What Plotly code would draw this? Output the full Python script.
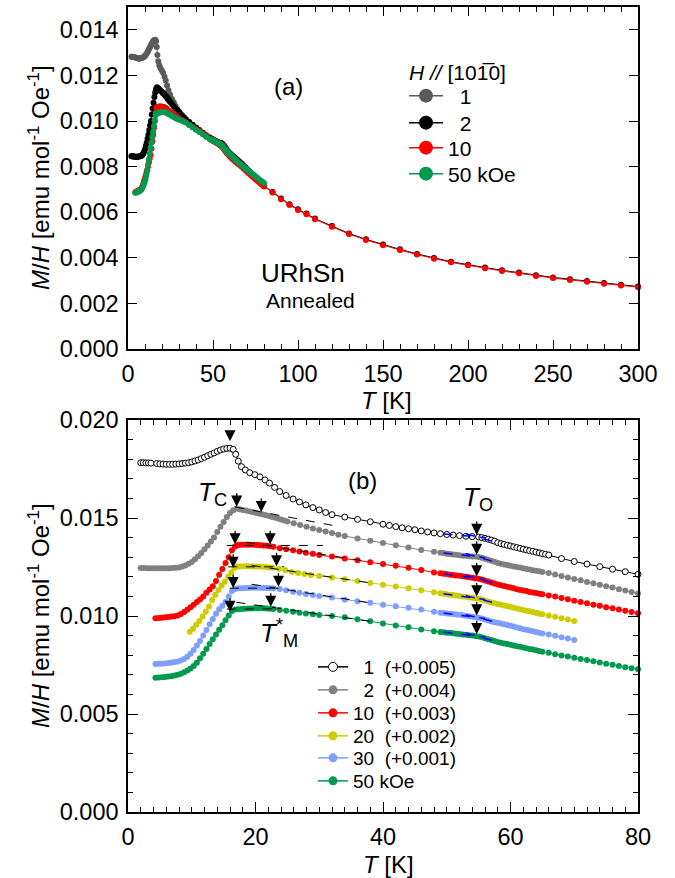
import numpy as np
import plotly.graph_objects as go

# ---------------- data (M/H in emu mol^-1 Oe^-1, T in K) ----------------
T1 = [2.0, 2.4, 2.8, 3.2, 3.6, 4.5, 5.0, 5.5, 6.0, 6.5,
      7.0, 7.5, 8.0, 8.5, 9.0, 9.5, 10.0, 10.5, 11.0, 11.5,
      12.0, 12.5, 13.0, 13.5, 14.0, 14.5, 15.0, 15.5, 16.0, 16.5,
      16.9, 17.3, 17.8, 18.4, 19.1, 19.9, 20.7, 21.5, 22.2, 23.0,
      23.8, 24.8, 25.9, 26.9, 27.9, 29.0, 30.0, 31.0, 32.0, 34.0,
      36.0, 38.0, 40.0, 41.0, 42.0, 43.0, 44.0, 45.0, 46.0, 47.0,
      48.0, 49.0, 50.0, 51.0, 52.0, 53.0, 54.0, 55.0, 55.5, 56.0,
      56.5, 57.0, 57.5, 58.0, 58.5, 59.0, 59.5, 60.0, 60.5, 61.0,
      61.5, 62.0, 62.5, 63.0, 63.5, 64.0, 64.5, 65.0, 65.5, 66.0,
      68.0, 70.0, 72.0, 74.0, 76.0, 78.0, 80.0]
M1 = [.01282, .01282, .01281, .01281, .01280, .01278, .01276, .01275, .01274, .01274,
      .01274, .01275, .01276, .01278, .01280, .01282, .01286, .01291, .01296, .01303,
      .01310, .01318, .01325, .01332, .01340, .01347, .01352, .01355, .01356, .01350,
      .01325, .01290, .01262, .01245, .01231, .01221, .01210, .01194, .01178, .01156,
      .01135, .01115, .01097, .01082, .01067, .01053, .01041, .01028, .01017, .01005,
      .00993, .00981, .00968, .00962, .00956, .00950, .00945, .00940, .00934, .00929,
      .00924, .00920, .00916, .00913, .00910, .00907, .00905, .00903, .00900, .00896,
      .00892, .00887, .00882, .00874, .00869, .00865, .00861, .00857, .00853, .00849,
      .00845, .00841, .00837, .00833, .00830, .00826, .00822, .00818, .00815, .00811,
      .00793, .00778, .00765, .00752, .00739, .00726, .00713]

T2 = [2.0, 2.5, 3.0, 3.5, 4.0, 4.5, 5.0, 5.5, 6.0, 6.5,
      7.0, 7.5, 8.0, 8.5, 9.0, 9.5, 10.0, 10.5, 11.0, 11.5,
      12.0, 12.5, 13.0, 13.5, 14.0, 14.5, 15.0, 15.5, 16.0, 16.5,
      17.0, 17.5, 18.0, 18.5, 19.0, 19.5, 20.0, 20.5, 21.0, 21.5,
      22.0, 22.5, 23.0, 23.5, 24.0, 24.5, 25.0, 26.0, 27.0, 28.0,
      29.0, 30.0, 31.0, 32.0, 33.0, 34.0, 36.0, 38.0, 40.0, 42.0,
      44.0, 46.0, 48.0, 49.0, 49.5, 50.0, 50.5, 51.0, 51.5, 52.0,
      52.5, 53.0, 53.5, 54.0, 54.5, 55.0, 55.5, 56.0, 56.5, 57.0,
      57.5, 58.0, 58.5, 59.0, 59.5, 60.0, 60.5, 61.0, 61.5, 62.0,
      62.5, 63.0, 63.5, 64.0, 64.5, 65.0, 66.0, 67.0, 68.0, 69.0,
      70.0, 71.0, 72.0, 73.0, 74.0, 75.0, 76.0, 77.0, 78.0, 79.0,
      80.0]
M2 = [.00845, .00845, .00844, .00844, .00843, .00843, .00843, .00843, .00843, .00844,
      .00845, .00846, .00848, .00852, .00858, .00866, .00876, .00890, .00905, .00922,
      .00940, .00960, .00980, .01000, .01028, .01055, .01080, .01105, .01125, .01140,
      .01148, .01145, .01141, .01138, .01134, .01131, .01127, .01123, .01119, .01115,
      .01111, .01107, .01102, .01097, .01092, .01087, .01082, .01073, .01064, .01055,
      .01047, .01039, .01031, .01023, .01015, .01008, .00996, .00984, .00972, .00961,
      .00949, .00937, .00928, .00923, .00921, .00918, .00916, .00914, .00912, .00910,
      .00908, .00907, .00905, .00904, .00903, .00901, .00897, .00892, .00887, .00882,
      .00877, .00871, .00867, .00863, .00860, .00856, .00853, .00850, .00847, .00844,
      .00840, .00837, .00834, .00831, .00828, .00825, .00819, .00812, .00804, .00797,
      .00789, .00782, .00774, .00767, .00760, .00752, .00745, .00737, .00730, .00722,
      .00715]

T10 = [4.3, 4.8, 5.3, 5.8, 6.3, 6.8, 7.3, 7.8, 8.3, 8.8,
       9.3, 9.8, 10.3, 10.8, 11.3, 11.8, 12.3, 12.8, 13.3, 13.8,
       14.3, 14.8, 15.3, 15.8, 16.3, 16.8, 17.3, 17.8, 18.3, 18.8,
       19.3, 19.8, 20.3, 20.8, 21.3, 21.8, 22.3, 22.8, 23.8, 24.8,
       25.9, 26.9, 27.9, 29.0, 30.0, 32.0, 34.0, 36.0, 38.0, 40.0,
       42.0, 44.0, 46.0, 48.0, 49.0, 49.5, 50.0, 50.5, 51.0, 51.5,
       52.0, 52.5, 53.0, 53.5, 54.0, 54.5, 55.0, 55.5, 56.0, 56.5,
       57.0, 57.5, 58.0, 58.5, 59.0, 59.5, 60.0, 60.5, 61.0, 61.5,
       62.0, 62.5, 63.0, 63.5, 64.0, 64.5, 65.0, 66.0, 67.0, 68.0,
       69.0, 70.0, 71.0, 72.0, 73.0, 74.0, 75.0, 76.0, 77.0, 78.0,
       79.0, 80.0]
M10 = [.00688, .00690, .00691, .00693, .00695, .00697, .00699, .00702, .00710, .00720,
       .00732, .00745, .00758, .00772, .00784, .00800, .00818, .00835, .00852, .00878,
       .00910, .00940, .00970, .01000, .01035, .01055, .01062, .01063, .01063, .01064,
       .01064, .01063, .01062, .01061, .01060, .01058, .01056, .01053, .01046, .01041,
       .01036, .01029, .01023, .01017, .01011, .01003, .00994, .00984, .00974, .00965,
       .00956, .00946, .00935, .00922, .00918, .00916, .00914, .00911, .00909, .00907,
       .00905, .00903, .00900, .00898, .00895, .00893, .00890, .00886, .00881, .00876,
       .00871, .00866, .00861, .00857, .00853, .00849, .00845, .00841, .00837, .00833,
       .00830, .00827, .00823, .00820, .00817, .00814, .00811, .00805, .00799, .00792,
       .00785, .00778, .00771, .00765, .00758, .00752, .00745, .00739, .00733, .00727,
       .00720, .00714]

T20 = [9.7, 10.2, 10.7, 11.2, 11.7, 12.2, 12.7, 13.2, 13.7, 14.2,
       14.7, 15.2, 15.7, 16.2, 16.7, 17.2, 17.7, 18.2, 18.7, 19.2,
       19.7, 20.2, 20.7, 21.2, 21.7, 22.2, 22.7, 23.7, 24.7, 25.7,
       26.7, 27.7, 28.7, 30.0, 32.0, 34.0, 36.0, 38.0, 40.0, 42.0,
       44.0, 46.0, 48.0, 49.0, 49.5, 50.0, 50.5, 51.0, 51.5, 52.0,
       52.5, 53.0, 53.5, 54.0, 54.5, 55.0, 55.5, 56.0, 56.5, 57.0,
       57.5, 58.0, 58.5, 59.0, 59.5, 60.0, 60.5, 61.0, 61.5, 62.0,
       62.5, 63.0, 63.5, 64.0, 64.5, 65.0, 66.0, 67.0, 68.0, 69.0,
       70.0]
M20 = [.00720, .00735, .00755, .00775, .00798, .00822, .00848, .00882, .00908, .00933,
       .00955, .00975, .01000, .01022, .01045, .01052, .01053, .01054, .01054, .01054,
       .01053, .01053, .01052, .01051, .01050, .01048, .01046, .01041, .01033, .01025,
       .01019, .01014, .01009, .01004, .00997, .00987, .00978, .00969, .00960, .00951,
       .00942, .00932, .00921, .00916, .00914, .00911, .00909, .00907, .00905, .00902,
       .00900, .00898, .00895, .00893, .00891, .00888, .00884, .00879, .00874, .00869,
       .00865, .00861, .00858, .00854, .00850, .00846, .00842, .00838, .00834, .00831,
       .00827, .00824, .00820, .00816, .00812, .00809, .00802, .00796, .00789, .00782,
       .00775]

T30 = [4.3, 4.8, 5.3, 5.8, 6.3, 6.8, 7.3, 7.8, 8.3, 8.8,
       9.3, 9.8, 10.3, 10.8, 11.3, 11.8, 12.3, 12.8, 13.3, 13.8,
       14.3, 14.8, 15.3, 15.8, 16.3, 16.8, 17.3, 17.8, 18.3, 18.8,
       19.3, 19.8, 20.3, 20.8, 21.3, 21.8, 22.3, 22.8, 23.8, 24.8,
       25.9, 26.9, 27.9, 29.0, 30.0, 32.0, 34.0, 36.0, 38.0, 40.0,
       42.0, 44.0, 46.0, 48.0, 49.0, 49.5, 50.0, 50.5, 51.0, 51.5,
       52.0, 52.5, 53.0, 53.5, 54.0, 54.5, 55.0, 55.5, 56.0, 56.5,
       57.0, 57.5, 58.0, 58.5, 59.0, 59.5, 60.0, 60.5, 61.0, 61.5,
       62.0, 62.5, 63.0, 63.5, 64.0, 64.5, 65.0, 66.0, 67.0, 68.0,
       69.0, 70.0]
M30 = [.00655, .00656, .00657, .00658, .00660, .00662, .00665, .00668, .00673, .00680,
       .00692, .00707, .00727, .00750, .00772, .00800, .00829, .00858, .00885, .00912,
       .00935, .00952, .00972, .01000, .01028, .01038, .01041, .01042, .01043, .01043,
       .01044, .01044, .01044, .01044, .01043, .01043, .01042, .01041, .01038, .01031,
       .01024, .01018, .01012, .01007, .01002, .00994, .00983, .00975, .00967, .00958,
       .00950, .00942, .00933, .00922, .00917, .00915, .00913, .00911, .00910, .00908,
       .00906, .00904, .00901, .00899, .00896, .00894, .00891, .00887, .00882, .00877,
       .00872, .00868, .00865, .00862, .00858, .00854, .00850, .00846, .00841, .00837,
       .00833, .00830, .00826, .00822, .00818, .00815, .00811, .00805, .00799, .00792,
       .00785, .00778]

T50 = [4.3, 4.8, 5.3, 5.8, 6.3, 6.8, 7.3, 7.8, 8.3, 8.8,
       9.3, 9.8, 10.3, 10.8, 11.3, 11.8, 12.3, 12.8, 13.3, 13.8,
       14.3, 14.8, 15.3, 15.8, 16.3, 16.8, 17.3, 17.8, 18.3, 18.8,
       19.3, 19.8, 20.3, 20.8, 21.3, 21.8, 22.3, 22.8, 23.8, 24.8,
       25.9, 26.9, 27.9, 29.0, 30.0, 32.0, 34.0, 36.0, 38.0, 40.0,
       42.0, 44.0, 46.0, 48.0, 49.0, 49.5, 50.0, 50.5, 51.0, 51.5,
       52.0, 52.5, 53.0, 53.5, 54.0, 54.5, 55.0, 55.5, 56.0, 56.5,
       57.0, 57.5, 58.0, 58.5, 59.0, 59.5, 60.0, 60.5, 61.0, 61.5,
       62.0, 62.5, 63.0, 63.5, 64.0, 64.5, 65.0, 66.0, 67.0, 68.0,
       69.0, 70.0, 71.0, 72.0, 73.0, 74.0, 75.0, 76.0, 77.0, 78.0,
       79.0, 80.0]
M50 = [.00685, .00686, .00688, .00689, .00691, .00693, .00696, .00700, .00705, .00713,
       .00722, .00732, .00745, .00762, .00784, .00808, .00832, .00857, .00882, .00905,
       .00930, .00953, .00978, .01003, .01025, .01033, .01035, .01036, .01037, .01038,
       .01038, .01039, .01039, .01039, .01039, .01038, .01037, .01036, .01031, .01027,
       .01022, .01017, .01013, .01009, .01005, .01000, .00993, .00983, .00973, .00962,
       .00952, .00942, .00931, .00922, .00919, .00917, .00915, .00914, .00912, .00910,
       .00908, .00906, .00904, .00902, .00900, .00898, .00896, .00892, .00887, .00882,
       .00877, .00873, .00867, .00864, .00860, .00857, .00853, .00850, .00846, .00843,
       .00839, .00836, .00832, .00829, .00825, .00821, .00818, .00812, .00805, .00799,
       .00793, .00787, .00781, .00775, .00769, .00763, .00757, .00751, .00745, .00739,
       .00734, .00728]

# high-temperature part (panel a only)
T_HIGH = [85, 90, 95, 100, 105, 110, 120, 130, 140, 150, 160, 170, 180,
          190, 200, 210, 220, 230, 240, 250, 260, 270, 280, 290, 300]
M10_HIGH = [.00686, .00657, .00632, .00610, .00591, .00569, .00536, .00504, .00478,
            .00455, .00434, .00414, .00396, .00380, .00367, .00354, .00342, .00332,
            .00320, .00311, .00303, .00295, .00286, .00279, .00271]
M2_HIGH = [.00689, .00660, .00635, .00613, .00594, .00572, .00539, .00507, .00481,
           .00458, .00437, .00417, .00399, .00383, .00370, .00357, .00345, .00335,
           .00323, .00314, .00306, .00298, .00289, .00282, .00274]

# vertical offsets used in panel (b)
OFFSETS = {"1": 0.005, "2": 0.004, "10": 0.003, "20": 0.002, "30": 0.001, "50": 0.0}

# characteristic temperatures marked by arrows in panel (b)
TC_ARROW = {"1": 16.0, "2": 17.05, "10": 16.8, "20": 16.5, "30": 16.5, "50": 16.0}
TM_ARROW = {"2": 20.9, "10": 22.3, "20": 23.3, "30": 23.6, "50": 22.4}
T_O = 54.7

# dashed guide lines in panel (b) (values include the offsets): T1, M1, T2, M2
GUIDES = [(16.8, 0.01556, 33.3, 0.01455),
          (15.5, 0.01360, 30.6, 0.01360),
          (18.5, 0.01376, 38.0, 0.01276),
          (15.7, 0.01251, 24.5, 0.01251),
          (19.4, 0.01258, 38.0, 0.01169),
          (16.0, 0.01142, 24.0, 0.01142),
          (19.4, 0.01162, 38.0, 0.01067),
          (15.5, 0.01035, 23.5, 0.01037),
          (17.0, 0.01070, 38.0, 0.00973)]

# ---------------- figure ----------------
W, H = 675, 878
FONT = "Liberation Sans, Arial, Helvetica, sans-serif"


def fx(p):
    return p / W


def fy(p):
    return 1 - p / H


SERIES = {"1": (T1, M1), "2": (T2, M2), "10": (T10, M10),
          "20": (T20, M20), "30": (T30, M30), "50": (T50, M50)}

COL_A = {"1": "#5a5a5a", "2": "#000000", "10": "#ff0000", "50": "#009a4e"}
COL_B = {"1": "#000000", "2": "#808080", "10": "#ff0000", "20": "#cccc00",
         "30": "#7f9fff", "50": "#009a4e"}

fig = go.Figure()

# ---- panel (a)
for key in ["1", "2", "10", "50"]:
    t, m = SERIES[key]
    if key == "2":
        t, m = t + T_HIGH, m + M2_HIGH
    if key == "10":
        t, m = t + T_HIGH, m + M10_HIGH
    c = COL_A[key]
    fig.add_trace(go.Scatter(x=t, y=m, mode="lines+markers", xaxis="x", yaxis="y",
                             line=dict(color=c, width=1),
                             marker=dict(color=c, size=6, line=dict(width=0)),
                             showlegend=False, cliponaxis=False))

# one legend box per entry, so that each row sits exactly where it should
LEG_A = {"1": "\u20071", "2": "\u20072", "10": "10", "50": "50 kOe"}
ROW_A = {"1": 96, "2": 123, "10": 148, "50": 174}
legends = {}
n = 1
for key in ["1", "2", "10", "50"]:
    c = COL_A[key]
    lname = "legend" if n == 1 else "legend%d" % n
    fig.add_trace(go.Scatter(x=[None], y=[None], mode="lines+markers", xaxis="x", yaxis="y",
                             line=dict(color=c, width=1.5),
                             marker=dict(color=c, size=14, line=dict(width=0)),
                             name=LEG_A[key], legend=lname))
    legends[lname] = dict(x=fx(404), y=fy(ROW_A[key]), xanchor="left", yanchor="middle",
                          bgcolor="rgba(0,0,0,0)", itemwidth=34,
                          font=dict(family=FONT, size=21, color="black"))
    n += 1


# ---- panel (b)
def shifted(key):
    t, m = SERIES[key]
    return t, [v + OFFSETS[key] for v in m]


for key in ["1", "2", "10", "20", "30", "50"]:
    t, m = shifted(key)
    c = COL_B[key]
    if key == "1":
        mk = dict(color="white", size=6, line=dict(color="black", width=1))
    else:
        mk = dict(color=c, size=6, line=dict(width=0))
    fig.add_trace(go.Scatter(x=t, y=m, mode="lines+markers", xaxis="x2", yaxis="y2",
                             line=dict(color=c, width=1), marker=mk,
                             showlegend=False, cliponaxis=False))

# black dashed guides
gx, gy = [], []
for (a, b, c_, d) in GUIDES:
    gx += [a, c_, None]
    gy += [b, d, None]
fig.add_trace(go.Scatter(x=gx, y=gy, mode="lines", xaxis="x2", yaxis="y2",
                         line=dict(color="black", width=1, dash="dash"),
                         showlegend=False, hoverinfo="skip"))

# blue dashed tangents around T_O
bx, by = [], []
for key in ["1", "2", "10", "20", "30", "50"]:
    t, m = shifted(key)
    ma = float(np.interp(49.5, t, m))
    mo = float(np.interp(T_O, t, m))
    mb = float(np.interp(58.5, t, m))
    s1 = (mo - ma) / (T_O - 49.5)
    s2 = (mb - mo) / (58.5 - T_O)
    bx += [49.5, 56.0, None, 53.0, 58.5, None]
    by += [ma, mo + s1 * (56.0 - T_O), None, mo + s2 * (53.0 - T_O), mb, None]
fig.add_trace(go.Scatter(x=bx, y=by, mode="lines", xaxis="x2", yaxis="y2",
                         line=dict(color="#0000ff", width=1.5, dash="dash"),
                         showlegend=False, hoverinfo="skip"))

LEG_B = {"1": "\u20071\u00a0\u00a0(+0.005)", "2": "\u20072\u00a0\u00a0(+0.004)",
         "10": "10\u00a0\u00a0(+0.003)", "20": "20\u00a0\u00a0(+0.002)",
         "30": "30\u00a0\u00a0(+0.001)", "50": "50 kOe"}
ROW_B = {"1": 667, "2": 690, "10": 713, "20": 736, "30": 758, "50": 781}
for key in ["1", "2", "10", "20", "30", "50"]:
    c = COL_B[key]
    if key == "1":
        mk = dict(color="white", size=9, line=dict(color="black", width=1))
    else:
        mk = dict(color=c, size=9, line=dict(width=0))
    lname = "legend%d" % n
    fig.add_trace(go.Scatter(x=[None], y=[None], mode="lines+markers", xaxis="x2", yaxis="y2",
                             line=dict(color=c, width=1.5), marker=mk,
                             name=LEG_B[key], legend=lname))
    legends[lname] = dict(x=fx(313), y=fy(ROW_B[key]), xanchor="left", yanchor="middle",
                          bgcolor="rgba(0,0,0,0)", itemwidth=30,
                          font=dict(family=FONT, size=19, color="black"))
    n += 1

# ---------------- axes ----------------
XD = [fx(128), fx(638)]
common = dict(showline=True, linecolor="black", linewidth=1.5, mirror="ticks",
              ticks="inside", tickcolor="black", tickwidth=1.2, showgrid=False,
              zeroline=False, automargin=False,
              tickfont=dict(family=FONT, size=23.5, color="black"))

fig.update_layout(
    width=W, height=H, margin=dict(l=0, r=0, t=0, b=0),
    paper_bgcolor="white", plot_bgcolor="white",
    font=dict(family=FONT, color="black"),
    xaxis=dict(domain=XD, range=[0, 300], tick0=0, dtick=50, ticklen=9, anchor="y",
               ticklabelstandoff=3,
               minor=dict(ticks="inside", dtick=10, ticklen=5, tickcolor="black", tickwidth=1.2),
               **common),
    yaxis=dict(domain=[fy(349), fy(7)], range=[0, 0.015], tick0=0, dtick=0.002,
               tickformat=".3f", ticklen=9, anchor="x", ticklabelstandoff=3, **common),
    xaxis2=dict(domain=XD, range=[0, 80], tick0=0, dtick=20, ticklen=10, anchor="y2",
                ticklabelstandoff=3,
                minor=dict(ticks="inside", dtick=2, ticklen=5, tickcolor="black", tickwidth=1.2),
                **common),
    yaxis2=dict(domain=[fy(812), fy(420)], range=[0, 0.020], tick0=0, dtick=0.005,
                tickformat=".3f", ticklen=10, anchor="x2", ticklabelstandoff=3,
                minor=dict(ticks="inside", dtick=0.001, ticklen=5, tickcolor="black", tickwidth=1.2),
                **common),
    **legends,
)


def txt(x, y, text, size, **kw):
    d = dict(x=fx(x), y=fy(y), xref="paper", yref="paper", showarrow=False,
             xanchor="center", yanchor="middle", text=text,
             font=dict(family=FONT, size=size, color="black"))
    d.update(kw)
    return d


ann = []
ytitle = "<i>M</i>/<i>H</i> [emu mol<sup>-1</sup> Oe<sup>-1</sup>]"
ann.append(txt(386, 401, "<i>T</i> [K]", 24))
ann.append(txt(388, 864, "<i>T</i> [K]", 24))
ann.append(txt(39, 178, ytitle, 24, textangle=-90))
ann.append(txt(39, 616, ytitle, 24, textangle=-90))
ann.append(txt(407, 72, "<i>H</i> <i>//</i> [101\u03050]", 21, xanchor="left"))
ann.append(txt(288, 87, "(a)", 24))
ann.append(txt(362, 480, "(b)", 24))
ann.append(txt(303, 273, "URhSn", 26))
ann.append(txt(310, 300, "Annealed", 21))
ann.append(txt(212, 493, "<i>T</i><sub>C</sub>", 26))
ann.append(txt(478, 498, "<i>T</i><sub>O</sub>", 26))
ann.append(txt(279, 633, "<i>T</i><sup>*</sup><sub>M</sub>", 26))


def arrow(key, T, standoff=2):
    t, m = shifted(key)
    return dict(x=T, y=float(np.interp(T, t, m)), xref="x2", yref="y2", text="",
                showarrow=True, arrowhead=2, arrowsize=1.7, arrowwidth=1.3,
                arrowcolor="black", ax=0, ay=-17, standoff=standoff)


for key, T in TC_ARROW.items():
    ann.append(arrow(key, T, 7 if key == "1" else 2))
for key, T in TM_ARROW.items():
    ann.append(arrow(key, T))
for key in SERIES:
    ann.append(arrow(key, T_O))

fig.update_layout(annotations=ann)
fig.write_html("out.html")
